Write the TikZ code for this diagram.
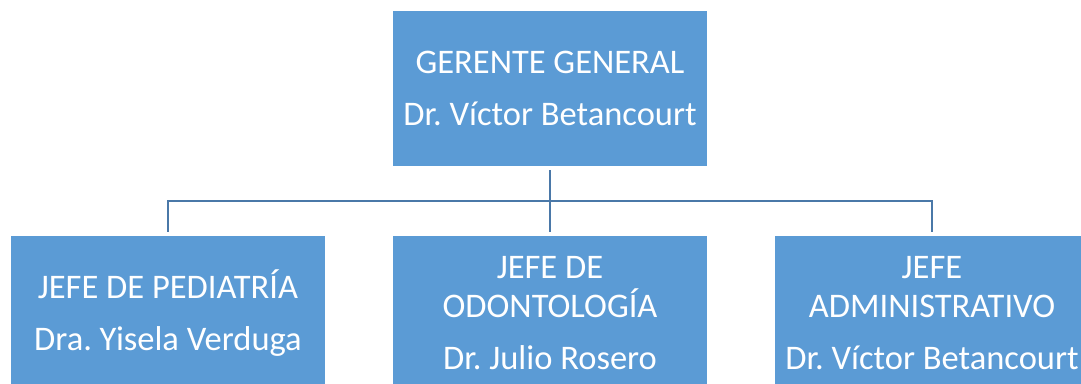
\documentclass[tikz,border=0pt]{standalone}
\usepackage{fontspec}
\setmainfont{Carlito}
\usetikzlibrary{calc}
\definecolor{cajaazul}{HTML}{5B9BD5}
\definecolor{lineaazul}{HTML}{4A78A8}
\frenchspacing

\begin{document}
\begin{tikzpicture}[x=1pt,y=-1pt,
    cargo/.style={fill=cajaazul,draw=none,text=white,align=center,
      minimum width=314pt,minimum height=155pt,inner sep=0pt,
      font=\fontsize{34.5}{39}\selectfont},
    enlace/.style={draw=lineaazul,line width=2.2pt}]
    \clip (0,0) rectangle (1081,383); %marco de la figura
    \node[cargo] (gerente) at (550,88.5) {GERENTE GENERAL\\[13pt]Dr. Víctor Betancourt};
    \node[cargo] (pediatria) at (168,313.5) {JEFE DE PEDIATRÍA\\[13pt]Dra. Yisela Verduga};
    \node[cargo] (odonto) at (550,313.5) {JEFE DE\\ODONTOLOGÍA\\[13pt]Dr. Julio Rosero};
    \node[cargo] (admin) at (932,313.5) {JEFE\\ADMINISTRATIVO\\[13pt]Dr. Víctor Betancourt};
    \coordinate (barra) at (550,201); %barra horizontal
    \draw[enlace,shorten <=4pt] (gerente.south) -- (barra);
    \draw[enlace,shorten >=4pt] (barra) -| (pediatria.north);
    \draw[enlace,shorten >=4pt] (barra) -| (admin.north);
    \draw[enlace,shorten >=4pt] (barra) -- (odonto.north);
\end{tikzpicture}
\end{document}
